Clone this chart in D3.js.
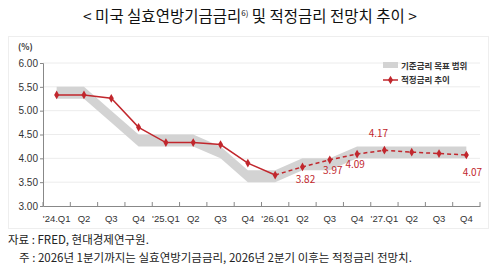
<!DOCTYPE html>
<html>
<head>
<meta charset="utf-8">
<script src="https://cdn.jsdelivr.net/npm/d3@7"></script>
<style>
  body { margin: 0; background: #fff; }
  svg { font-family: "Noto Sans CJK KR", "Noto Sans", sans-serif; }
</style>
</head>
<body>
<div id="chart"></div>
<script>
// quarters on the x axis
const quarters = ["'24.Q1", "Q2", "Q3", "Q4", "'25.Q1", "Q2 ", "Q3 ", "Q4 ",
  "'26.Q1", "Q2  ", "Q3  ", "Q4  ", "'27.Q1", "Q2   ", "Q3   ", "Q4   "];

// effective FFR until '26.Q1, then fair-rate forecast
const rateValues = [5.33, 5.33, 5.26, 4.65, 4.33, 4.33, 4.29, 3.90,
  3.65, 3.82, 3.97, 4.09, 4.17, 4.13, 4.10, 4.07];

// target range of the policy rate
const bandLow = [5.25, 5.25, 4.75, 4.25, 4.25, 4.25, 4.00, 3.50,
  3.50, 3.75, 3.75, 4.00, 4.00, 4.00, 4.00, 4.00];
const bandHigh = [5.50, 5.50, 5.00, 4.50, 4.50, 4.50, 4.25, 3.75,
  3.75, 4.00, 4.00, 4.25, 4.25, 4.25, 4.25, 4.25];

const yTicks = [3.0, 3.5, 4.0, 4.5, 5.0, 5.5, 6.0];
const labelled = [9, 10, 11, 12, 15];   // forecast points with value labels
const forecastStart = 8;

const width = 500, height = 273;
const red = "#c1272d";

const svg = d3.select("#chart").append("svg")
  .attr("width", width).attr("height", height);

// title
const title = svg.append("text")
  .attr("x", 250).attr("y", 22)
  .attr("text-anchor", "middle")
  .attr("font-size", 15.5)
  .attr("fill", "#111");
title.append("tspan").text("< 미국 실효연방기금금리");
title.append("tspan").attr("font-size", 8).attr("dy", -6).text("6)");
title.append("tspan").attr("dy", 6).text(" 및 적정금리 전망치 추이 >");

// panel frame
svg.append("rect")
  .attr("x", 8.5).attr("y", 36.5)
  .attr("width", 480).attr("height", 192)
  .attr("fill", "none").attr("stroke", "#eeeeee");

const x = d3.scaleBand().domain(quarters).range([43, 480]);
const y = d3.scaleLinear().domain([3, 6]).range([206, 63]);
const cx = i => x(quarters[i]) + x.bandwidth() / 2;

// grid
svg.append("g").selectAll("line")
  .data(yTicks.filter(d => d > 3))
  .join("line")
  .attr("x1", 43).attr("x2", 480)
  .attr("y1", d => y(d)).attr("y2", d => y(d))
  .attr("stroke", "#ececec");

// y axis
const yAxis = svg.append("g")
  .attr("transform", "translate(43,0)")
  .call(d3.axisLeft(y).tickValues(yTicks).tickFormat(d3.format(".2f")).tickSize(3));
yAxis.select(".domain").attr("stroke", "#888");
yAxis.selectAll(".tick line").attr("stroke", "#888");
yAxis.selectAll(".tick text").attr("font-size", 10).attr("fill", "#333").attr("x", -5);

svg.append("text")
  .attr("x", 18).attr("y", 50)
  .attr("font-size", 8.5).attr("font-weight", "bold").attr("fill", "#333")
  .text("(%)");

// x axis, ticks pointing up
const xAxis = svg.append("g")
  .attr("transform", "translate(0,206)")
  .call(d3.axisBottom(x).tickSize(0).tickPadding(9));
xAxis.select(".domain").attr("stroke", "#888");
xAxis.selectAll(".tick text").attr("font-size", 9.5).attr("fill", "#333");
svg.append("g").selectAll("line")
  .data(d3.range(quarters.length + 1))
  .join("line")
  .attr("x1", i => x.range()[0] + i * x.step()).attr("x2", i => x.range()[0] + i * x.step())
  .attr("y1", 206).attr("y2", 202)
  .attr("stroke", "#888");

// target range band
const idx = d3.range(quarters.length);
svg.append("path")
  .datum(idx)
  .attr("fill", "#d3d3d3")
  .attr("d", d3.area().x(i => cx(i)).y0(i => y(bandLow[i])).y1(i => y(bandHigh[i])));

// rate line: solid history, dashed forecast
const line = d3.line().x(i => cx(i)).y(i => y(rateValues[i]));
svg.append("path")
  .datum(idx.filter(i => i <= forecastStart))
  .attr("fill", "none").attr("stroke", red).attr("stroke-width", 1.5)
  .attr("d", line);
svg.append("path")
  .datum(idx.filter(i => i >= forecastStart))
  .attr("fill", "none").attr("stroke", red).attr("stroke-width", 1.5)
  .attr("stroke-dasharray", "4,3")
  .attr("d", line);

const marker = d3.symbol().type(d3.symbolDiamond).size(22);
svg.append("g").selectAll("path")
  .data(idx)
  .join("path")
  .attr("transform", i => `translate(${cx(i)},${y(rateValues[i])})`)
  .attr("d", marker)
  .attr("fill", red);

// value labels
const labelOffset = {9: [3, 16], 10: [3, 14], 11: [-2, 14], 12: [-6, -13], 15: [6, 21]};
svg.append("g").selectAll("text")
  .data(labelled)
  .join("text")
  .attr("x", i => cx(i) + labelOffset[i][0])
  .attr("y", i => y(rateValues[i]) + labelOffset[i][1])
  .attr("text-anchor", "middle")
  .attr("font-size", 10)
  .attr("fill", red)
  .text(i => d3.format(".2f")(rateValues[i]));

// legend
const legend = svg.append("g").attr("transform", "translate(383,0)");
legend.append("rect")
  .attr("x", 0).attr("y", 62).attr("width", 15).attr("height", 6)
  .attr("fill", "#d3d3d3");
legend.append("text")
  .attr("x", 18).attr("y", 68.5)
  .attr("font-size", 8.5).attr("font-weight", "bold").attr("fill", "#333")
  .text("기준금리 목표 범위");
legend.append("line")
  .attr("x1", 0).attr("x2", 15).attr("y1", 80).attr("y2", 80)
  .attr("stroke", red).attr("stroke-width", 1.5);
legend.append("path")
  .attr("transform", "translate(7.5,80)")
  .attr("d", marker).attr("fill", red);
legend.append("text")
  .attr("x", 18).attr("y", 83)
  .attr("font-size", 8.5).attr("font-weight", "bold").attr("fill", "#333")
  .text("적정금리 추이");

// notes
svg.append("text")
  .attr("x", 8).attr("y", 244)
  .attr("font-size", 11.5).attr("fill", "#222")
  .text("자료 : FRED, 현대경제연구원.");
svg.append("text")
  .attr("x", 19).attr("y", 262)
  .attr("font-size", 11.5).attr("fill", "#222")
  .text("주 : 2026년 1분기까지는 실효연방기금금리, 2026년 2분기 이후는 적정금리 전망치.");
</script>
</body>
</html>
